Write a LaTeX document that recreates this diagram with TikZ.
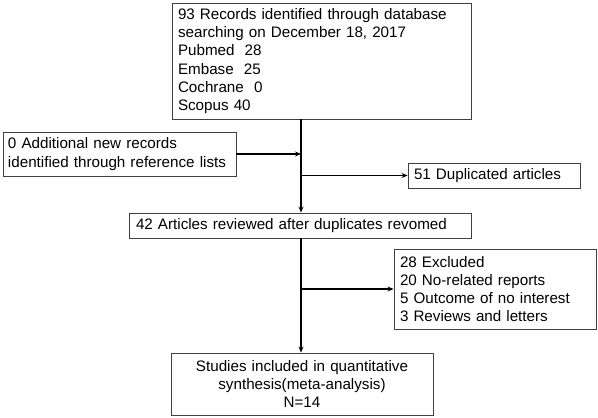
\documentclass[tikz,border=0pt]{standalone}
\usepackage{fontspec}
\setmainfont{Liberation Sans}
\usetikzlibrary{arrows.meta,calc}
\begin{document}
\begin{tikzpicture}[x=1pt,y=-1pt,
  box/.style={draw=black!75,line width=0.9pt,rectangle,inner ysep=0pt,inner xsep=6pt,
    font=\fontsize{15.2}{18.2}\selectfont,anchor=center},
  conn/.style={line width=1.2pt,-{Stealth[length=6pt,width=5pt]}}]
\useasboundingbox (0,0) rectangle (598,418);
\node[box,minimum width=299pt,minimum height=116pt,text width=287pt,align=left] (top) at (321.5,61)
  {93 Records identified through database\\searching on December 18, 2017\\Pubmed\ \ 28\\Embase\ \ 25\\Cochrane\ \ 0\\Scopus 40};
\node[box,minimum width=233pt,minimum height=44pt,text width=223pt,align=left,inner xsep=5pt] (left) at (119.5,154)
  {0 Additional new records\\identified through reference lists};
\node[box,minimum width=172pt,minimum height=25pt,text width=160pt,align=left] (dup) at (494,175.5)
  {51 Duplicated articles};
\node[box,minimum width=342pt,minimum height=25pt,text width=328pt,align=left,inner xsep=7pt] (mid) at (300,225.5)
  {42 Articles reviewed after duplicates revomed};
\node[box,minimum width=202pt,minimum height=80pt,text width=190pt,align=left] (excl) at (495,289)
  {28 Excluded\\20 No-related reports\\5 Outcome of no interest\\3 Reviews and letters};
\node[box,minimum width=262pt,minimum height=62pt,text width=250pt,align=center] (bot) at (302,384)
  {Studies included in quantitative\\synthesis(meta-analysis)\\N=14};
\coordinate (s) at (301,0);
\draw[conn] (top.south -| s) -- (mid.north -| s);
\draw[conn] (left.east) -- (s |- left.east);
\draw[conn] (s |- dup.west) -- (dup.west);
\draw[conn] (mid.south -| s) -- (bot.north -| s);
\draw[conn] (s |- excl.west) -- (excl.west);
\end{tikzpicture}
\end{document}
